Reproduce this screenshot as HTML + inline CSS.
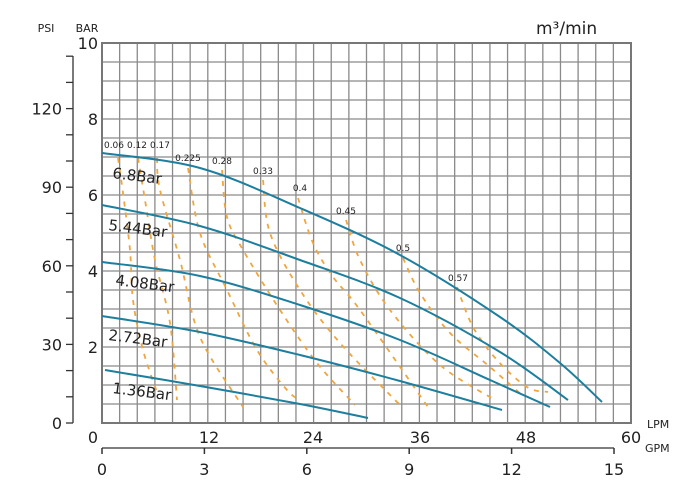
<!DOCTYPE html><html><head><meta charset="utf-8"><style>
body{margin:0;background:#fff}svg{display:block}
text{font-family:"DejaVu Sans","Liberation Sans",sans-serif;fill:#222}
</style></head><body>
<svg id="s" width="692" height="492" xmlns="http://www.w3.org/2000/svg"></svg>
<script>
const s=document.getElementById('s');let h='';
const L=102,R=631,T=43,B=423;
for(let i=0;i<=30;i++){const x=L+i*(R-L)/30;h+=`<line x1="${x}" y1="${T}" x2="${x}" y2="${B}" stroke="#8a8a8a" stroke-width="1.3"/>`;}
for(let j=0;j<=20;j++){const y=T+j*(B-T)/20;h+=`<line x1="${L}" y1="${y}" x2="${R}" y2="${y}" stroke="#8a8a8a" stroke-width="1.3"/>`;}
h+=`<rect x="${L}" y="${T}" width="${R-L}" height="${B-T}" fill="none" stroke="#777" stroke-width="2"/>`;
function path(p){let d=`M${p[0][0]},${p[0][1]}`;for(let i=0;i<p.length-1;i++){const p0=p[i-1]||p[i],p1=p[i],p2=p[i+1],p3=p[i+2]||p2;
d+=` C${p1[0]+(p2[0]-p0[0])/6},${p1[1]+(p2[1]-p0[1])/6} ${p2[0]-(p3[0]-p1[0])/6},${p2[1]-(p3[1]-p1[1])/6} ${p2[0]},${p2[1]}`;}return d;}
const dash=[
[[118,158],[123,193],[130,250],[133,300],[143,350],[158,395]],
[[138,158],[145,200],[155,260],[170,323],[177,400]],
[[157,158],[160,190],[180,260],[200,337],[243,407]],
[[188,168],[200,233],[227,290],[257,350],[287,390],[300,400]],
[[222,170],[227,217],[243,250],[280,310],[317,363],[355,405]],
[[263,180],[270,233],[300,290],[340,343],[400,405]],
[[298,198],[313,243],[333,277],[360,310],[430,410]],
[[346,220],[360,260],[390,310],[440,365],[495,400]],
[[403,258],[420,293],[450,333],[490,367],[522,395]],
[[457,287],[473,327],[497,360],[527,387],[548,392]]];
dash.forEach(p=>h+=`<path d="${path(p)}" fill="none" stroke="#eea640" stroke-width="1.8" stroke-dasharray="5,6"/>`);
const cur=[
[[102,153],[200,168],[300,208],[400,255],[500,317],[560,363],[602,402]],
[[102,205],[200,226],[300,260],[400,298],[500,352],[568,400]],
[[102,262],[200,276],[300,305],[400,340],[490,380],[550,407]],
[[102,316],[200,332],[300,355],[400,381],[502,410]],
[[105,370],[200,386],[300,404],[368,418]]];
cur.forEach(p=>h+=`<path d="${path(p)}" fill="none" stroke="#1d7e9e" stroke-width="2"/>`);
[["0.06",114,148],["0.12",137,148],["0.17",160,148],["0.225",188,161],["0.28",222,164],["0.33",263,174],["0.4",300,191],["0.45",346,214],["0.5",403,251],["0.57",458,281]].forEach(a=>h+=`<text x="${a[1]}" y="${a[2]}" font-size="9" text-anchor="middle">${a[0]}</text>`);
[["6.8Bar",112,178],["5.44Bar",108,230],["4.08Bar",115,285],["2.72Bar",108,340],["1.36Bar",112,393]].forEach(a=>h+=`<text x="${a[1]}" y="${a[2]}" font-size="15" transform="rotate(7 ${a[1]} ${a[2]})">${a[0]}</text>`);
h+=`<text x="46" y="32" font-size="11" text-anchor="middle">PSI</text><text x="87" y="32" font-size="11" text-anchor="middle">BAR</text>`;
[["10",10],["8",8],["6",6],["4",4],["2",2]].forEach(a=>h+=`<text x="98" y="${B-a[1]*38+6}" font-size="16" text-anchor="end">${a[0]}</text>`);
h+=`<line x1="73" y1="56" x2="73" y2="${B}" stroke="#333" stroke-width="1.3"/>`;
for(let p=0;p<=140;p+=10){const y=B-p/14.5038*38;h+=`<line x1="66" y1="${y}" x2="73" y2="${y}" stroke="#333" stroke-width="1.3"/>`;if(p%30==0)h+=`<text x="62" y="${y+6}" font-size="16" text-anchor="end">${p}</text>`;}
[[0,93],[12,209],[24,313],[36,420],[48,526],[60,631]].forEach(a=>h+=`<text x="${a[1]}" y="443" font-size="16" text-anchor="middle">${a[0]}</text>`);
h+=`<text x="647" y="428" font-size="11">LPM</text><text x="645" y="452" font-size="11">GPM</text>`;
h+=`<line x1="102" y1="448" x2="614" y2="448" stroke="#333" stroke-width="1.3"/>`;
for(let g=0;g<=15;g+=3){const x=102+g*512/15;h+=`<line x1="${x}" y1="448" x2="${x}" y2="454" stroke="#333" stroke-width="1.5"/><text x="${x}" y="475" font-size="16" text-anchor="middle">${g}</text>`;}
h+=`<text x="536" y="34" font-size="17">m³/min</text>`;
s.innerHTML=h;
</script></body></html>
